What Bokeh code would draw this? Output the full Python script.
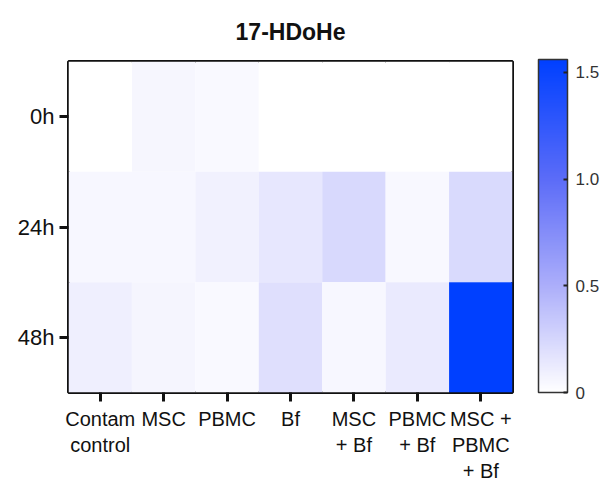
from bokeh.plotting import figure
from bokeh.models import (LinearColorMapper, ColorBar, FixedTicker, CustomJSTickFormatter,
                          ColumnDataSource)
from bokeh.embed import file_html
from bokeh.resources import INLINE

# ---- data ----
groups = ["Contam\ncontrol", "MSC", "PBMC", "Bf", "MSC\n+ Bf", "PBMC\n+ Bf", "MSC +\nPBMC\n+ Bf"]
times = ["0h", "24h", "48h"]
values_0h = [0.0, 0.06, 0.04, 0.0, 0.0, 0.0, 0.0]
values_24h = [0.05, 0.05, 0.09, 0.15, 0.235, 0.045, 0.23]
values_48h = [0.10, 0.065, 0.04, 0.20, 0.05, 0.13, 1.56]
cbar_ticks = [0, 0.5, 1.0, 1.5]
vmin, vmax = 0.0, 1.56
title_text = "17-HDoHe"

# ---- palette (white -> blue) ----
stops = [(0.0, (255, 255, 255)), (0.5 / 1.56, (172, 174, 250)),
         (1.0 / 1.56, (92, 108, 248)), (1.0, (0, 64, 255))]
palette = []
n = 256
for i in range(n):
    t = i / (n - 1)
    for (t0, c0), (t1, c1) in zip(stops[:-1], stops[1:]):
        if t0 <= t <= t1:
            f = (t - t0) / (t1 - t0)
            c = tuple(int(round(a + (b - a) * f)) for a, b in zip(c0, c1))
            break
    palette.append("#%02x%02x%02x" % c)

mapper = LinearColorMapper(palette=palette, low=vmin, high=vmax)

xs, ys, vs = [], [], []
for t, row in zip(times, [values_0h, values_24h, values_48h]):
    for g, v in zip(groups, row):
        xs.append(g)
        ys.append(t)
        vs.append(v)
src = ColumnDataSource(dict(x=xs, y=ys, v=vs))

FONT = "Liberation Sans"

p = figure(width=611, height=487, x_range=groups, y_range=list(reversed(times)),
           output_backend="svg", toolbar_location=None,
           min_border_left=68, min_border_right=99, min_border_top=0, min_border_bottom=95)
p.rect(x="x", y="y", width=1, height=1, source=src,
       fill_color={"field": "v", "transform": mapper}, line_color=None)

p.title.text = title_text
p.title.align = "center"
p.title.offset = 12
p.title.text_font = FONT
p.title.text_font_size = "23px"
p.title.text_font_style = "bold"
p.title.text_color = "#111111"
p.title.standoff = 33

p.grid.visible = False
p.outline_line_color = "#111111"
p.outline_line_width = 3
p.outline_line_alpha = 1

for ax in (p.xaxis[0], p.yaxis[0]):
    ax.axis_line_color = None
    ax.major_tick_line_color = "#111111"
    ax.major_tick_line_width = 3
    ax.major_tick_in = 0
    ax.major_tick_out = 9
    ax.minor_tick_line_color = None
    ax.major_label_text_font = FONT
    ax.major_label_text_color = "#111111"

p.yaxis.major_label_text_font_size = "22px"
p.yaxis.major_label_standoff = 5
p.xaxis.major_label_text_font_size = "20px"
p.xaxis.major_label_standoff = 6

cb = ColorBar(color_mapper=mapper, ticker=FixedTicker(ticks=cbar_ticks),
              formatter=CustomJSTickFormatter(code="return tick == 0 ? '0' : tick.toFixed(1);"),
              width=29, height=333, padding=0, margin=0, location=(26, 0),
              bar_line_color="#333333", bar_line_width=1.5,
              major_tick_line_color="#222222", major_tick_line_width=2,
              major_tick_in=4, major_tick_out=0, minor_tick_line_color=None,
              label_standoff=8, major_label_text_font=FONT,
              major_label_text_font_size="17px", major_label_text_color="#333333",
              background_fill_color=None, border_line_color=None)
p.add_layout(cb, "right")

open("out.html", "w").write(file_html(p, INLINE))
